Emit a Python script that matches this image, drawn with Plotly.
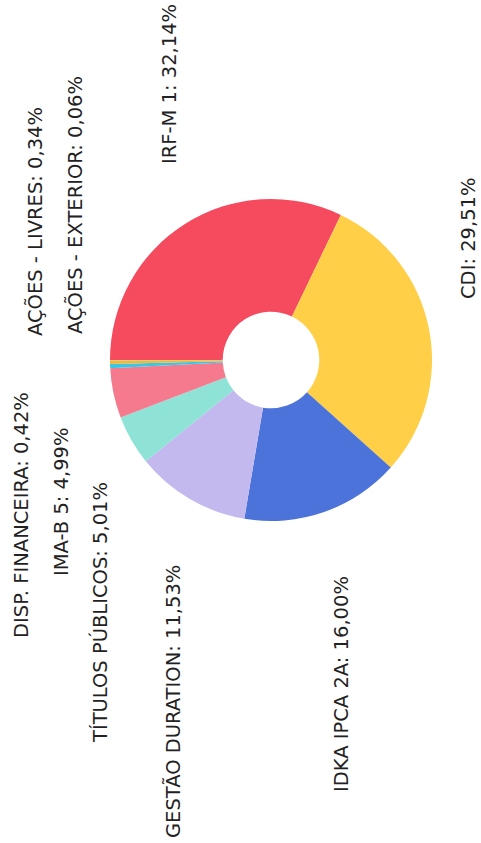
import plotly.graph_objects as go

# Data
categories = [
    "IRF-M 1", "CDI", "IDKA IPCA 2A", "GESTÃO DURATION", "TÍTULOS PÚBLICOS",
    "IMA-B 5", "DISP. FINANCEIRA", "AÇÕES - LIVRES", "AÇÕES - EXTERIOR",
]
values = [32.14, 29.51, 16.00, 11.53, 5.01, 4.99, 0.42, 0.34, 0.06]
value_labels = ["32,14%", "29,51%", "16,00%", "11,53%", "5,01%", "4,99%", "0,42%", "0,34%", "0,06%"]

# Styles
colors = ["#F64A5E", "#FFCF48", "#4C73DA", "#C4B9EE", "#8EE3D6",
          "#F67A8D", "#3BC6E4", "#F5B63A", "#9BD36B"]
# label centres in page pixels (x, y from top)
label_pos = {
    "IRF-M 1": (169, 84),
    "CDI": (469, 238),
    "IDKA IPCA 2A": (341, 684),
    "GESTÃO DURATION": (173, 702),
    "TÍTULOS PÚBLICOS": (100, 613),
    "IMA-B 5": (61, 502),
    "DISP. FINANCEIRA": (21, 515),
    "AÇÕES - LIVRES": (35, 222),
    "AÇÕES - EXTERIOR": (75, 205),
}

W, H = 481, 843
cx, cy, r = 271, 360, 161

fig = go.Figure(go.Pie(
    labels=categories,
    values=values,
    sort=False,
    direction="clockwise",
    rotation=270,
    hole=0.30,
    marker=dict(colors=colors, line=dict(width=0)),
    textinfo="none",
    showlegend=False,
    domain=dict(x=[(cx - r) / W, (cx + r) / W],
                y=[(H - cy - r) / H, (H - cy + r) / H]),
))

for cat, vl in zip(categories, value_labels):
    x, y = label_pos[cat]
    fig.add_annotation(
        x=x / W, y=1 - y / H, xref="paper", yref="paper",
        text=f"{cat}: {vl}", showarrow=False, textangle=-90,
        font=dict(family="DejaVu Sans", size=19.5, color="#222222"),
        xanchor="center", yanchor="middle", borderpad=0,
    )

fig.update_layout(
    width=W, height=H,
    margin=dict(l=0, r=0, t=0, b=0),
    paper_bgcolor="white", plot_bgcolor="white",
)

fig.write_html("out.html", config={"displayModeBar": False},
               post_script="document.body.style.margin='0';")
